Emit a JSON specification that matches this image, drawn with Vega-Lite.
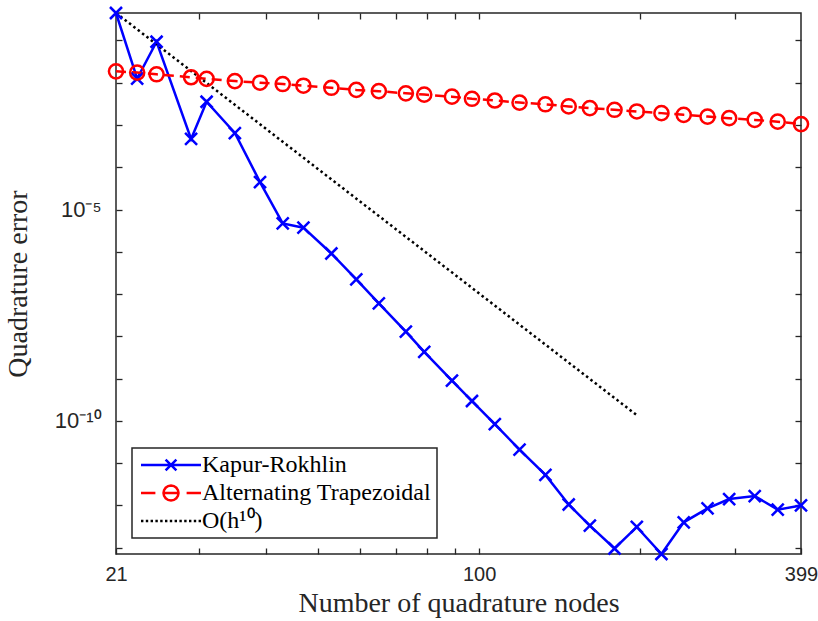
{
  "$schema": "https://vega.github.io/schema/vega-lite/v6.json",
  "width": 685,
  "height": 541,
  "autosize": {"type": "none"},
  "padding": {"left": 116, "top": 13, "right": 17, "bottom": 67},
  "background": "white",
  "config": {
    "view": {"stroke": "#262626", "strokeWidth": 1.5},
    "axis": {
      "domain": false,
      "grid": false,
      "tickColor": "#262626",
      "tickWidth": 1.3,
      "tickSize": -6,
      "labelFont": "Liberation Sans",
      "labelFontSize": 20,
      "labelColor": "#262626",
      "labelOverlap": false,
      "labelFlush": false,
      "titleFont": "Liberation Serif",
      "titleFontSize": 28,
      "titleFontWeight": "normal",
      "titleColor": "#262626"
    }
  },
  "data": {
    "values": [
      {"N": 21, "err": 0.4467, "series": "Kapur-Rokhlin"},
      {"N": 23, "err": 0.01259, "series": "Kapur-Rokhlin"},
      {"N": 25, "err": 0.0933, "series": "Kapur-Rokhlin"},
      {"N": 29, "err": 4.68e-4, "series": "Kapur-Rokhlin"},
      {"N": 31, "err": 3.55e-3, "series": "Kapur-Rokhlin"},
      {"N": 35, "err": 6.46e-4, "series": "Kapur-Rokhlin"},
      {"N": 39, "err": 4.47e-5, "series": "Kapur-Rokhlin"},
      {"N": 43, "err": 4.68e-6, "series": "Kapur-Rokhlin"},
      {"N": 47, "err": 3.72e-6, "series": "Kapur-Rokhlin"},
      {"N": 53, "err": 9.12e-7, "series": "Kapur-Rokhlin"},
      {"N": 59, "err": 2.24e-7, "series": "Kapur-Rokhlin"},
      {"N": 65, "err": 6.03e-8, "series": "Kapur-Rokhlin"},
      {"N": 73, "err": 1.29e-8, "series": "Kapur-Rokhlin"},
      {"N": 79, "err": 4.27e-9, "series": "Kapur-Rokhlin"},
      {"N": 89, "err": 8.91e-10, "series": "Kapur-Rokhlin"},
      {"N": 97, "err": 2.95e-10, "series": "Kapur-Rokhlin"},
      {"N": 107, "err": 8.32e-11, "series": "Kapur-Rokhlin"},
      {"N": 119, "err": 2.09e-11, "series": "Kapur-Rokhlin"},
      {"N": 133, "err": 5.25e-12, "series": "Kapur-Rokhlin"},
      {"N": 147, "err": 1.05e-12, "series": "Kapur-Rokhlin"},
      {"N": 161, "err": 3.31e-13, "series": "Kapur-Rokhlin"},
      {"N": 179, "err": 9.55e-14, "series": "Kapur-Rokhlin"},
      {"N": 197, "err": 3.09e-13, "series": "Kapur-Rokhlin"},
      {"N": 219, "err": 7.08e-14, "series": "Kapur-Rokhlin"},
      {"N": 241, "err": 3.98e-13, "series": "Kapur-Rokhlin"},
      {"N": 267, "err": 8.51e-13, "series": "Kapur-Rokhlin"},
      {"N": 293, "err": 1.41e-12, "series": "Kapur-Rokhlin"},
      {"N": 327, "err": 1.66e-12, "series": "Kapur-Rokhlin"},
      {"N": 361, "err": 7.94e-13, "series": "Kapur-Rokhlin"},
      {"N": 399, "err": 1.0e-12, "series": "Kapur-Rokhlin"},
      {"N": 21, "err": 0.01862, "series": "Alternating Trapezoidal"},
      {"N": 23, "err": 0.01738, "series": "Alternating Trapezoidal"},
      {"N": 25, "err": 0.01585, "series": "Alternating Trapezoidal"},
      {"N": 29, "err": 0.01349, "series": "Alternating Trapezoidal"},
      {"N": 31, "err": 0.0123, "series": "Alternating Trapezoidal"},
      {"N": 35, "err": 0.01096, "series": "Alternating Trapezoidal"},
      {"N": 39, "err": 0.01, "series": "Alternating Trapezoidal"},
      {"N": 43, "err": 0.00933, "series": "Alternating Trapezoidal"},
      {"N": 47, "err": 0.00851, "series": "Alternating Trapezoidal"},
      {"N": 53, "err": 0.00759, "series": "Alternating Trapezoidal"},
      {"N": 59, "err": 0.00676, "series": "Alternating Trapezoidal"},
      {"N": 65, "err": 0.00631, "series": "Alternating Trapezoidal"},
      {"N": 73, "err": 0.00562, "series": "Alternating Trapezoidal"},
      {"N": 79, "err": 0.00525, "series": "Alternating Trapezoidal"},
      {"N": 89, "err": 0.00468, "series": "Alternating Trapezoidal"},
      {"N": 97, "err": 0.00417, "series": "Alternating Trapezoidal"},
      {"N": 107, "err": 0.0038, "series": "Alternating Trapezoidal"},
      {"N": 119, "err": 0.00339, "series": "Alternating Trapezoidal"},
      {"N": 133, "err": 0.00309, "series": "Alternating Trapezoidal"},
      {"N": 147, "err": 0.00275, "series": "Alternating Trapezoidal"},
      {"N": 161, "err": 0.00251, "series": "Alternating Trapezoidal"},
      {"N": 179, "err": 0.00229, "series": "Alternating Trapezoidal"},
      {"N": 197, "err": 0.00209, "series": "Alternating Trapezoidal"},
      {"N": 219, "err": 0.00191, "series": "Alternating Trapezoidal"},
      {"N": 241, "err": 0.00174, "series": "Alternating Trapezoidal"},
      {"N": 267, "err": 0.00158, "series": "Alternating Trapezoidal"},
      {"N": 293, "err": 0.00145, "series": "Alternating Trapezoidal"},
      {"N": 327, "err": 0.00132, "series": "Alternating Trapezoidal"},
      {"N": 361, "err": 0.0012, "series": "Alternating Trapezoidal"},
      {"N": 399, "err": 0.00105, "series": "Alternating Trapezoidal"},
      {"N": 21, "err": 0.4467, "series": "O(h¹⁰)"},
      {"N": 197, "err": 1.36e-10, "series": "O(h¹⁰)"}
    ]
  },
  "layer": [
    {
      "transform": [{"filter": "datum.series == 'Kapur-Rokhlin'"}],
      "mark": {"type": "line", "strokeWidth": 2.5},
      "encoding": {
        "x": {
          "field": "N", "type": "quantitative",
          "scale": {"type": "log", "domain": [21, 399], "nice": false},
          "axis": {
            "orient": "bottom",
            "values": [21, 30, 40, 50, 60, 70, 80, 90, 100, 200, 300, 399],
            "labelExpr": "(datum.value == 21 || datum.value == 100 || datum.value == 399) ? '' + datum.value : ''",
            "labelPadding": 16,
            "title": "Number of quadrature nodes",
            "titlePadding": 5
          }
        },
        "y": {
          "field": "err", "type": "quantitative",
          "scale": {"type": "log", "domain": [7.08e-14, 0.4467], "nice": false},
          "axis": {
            "orient": "left",
            "values": [1e-13, 1e-12, 1e-11, 1e-10, 1e-9, 1e-8, 1e-7, 1e-6, 1e-5, 1e-4, 1e-3, 1e-2, 1e-1],
            "labelExpr": "abs(log(datum.value) / LN10 + 5) < 0.01 ? '10⁻⁵' : (abs(log(datum.value) / LN10 + 10) < 0.01 ? '10⁻¹⁰' : '')",
            "labelFontSize": 22,
            "labelPadding": 21,
            "title": "Quadrature error",
            "titlePadding": 22
          }
        },
        "color": {
          "field": "series", "type": "nominal",
          "scale": {"domain": ["Kapur-Rokhlin", "Alternating Trapezoidal", "O(h¹⁰)"], "range": ["#0000FF", "#FF0000", "#000000"]},
          "legend": {
            "orient": "bottom-left",
            "offset": 16,
            "title": null,
            "padding": 5,
            "strokeColor": "#262626",
            "fillColor": "white",
            "labelFont": "Liberation Serif",
            "labelFontSize": 24,
            "labelColor": "#000000",
            "labelLimit": 400,
            "symbolSize": 144,
            "symbolStrokeWidth": 2.5,
            "symbolOffset": 22,
            "labelOffset": 19,
            "rowPadding": 3,
            "encode": {
              "symbols": {
                "update": {
                  "shape": {"signal": "datum.value == 'Kapur-Rokhlin' ? 'M-5,0H5M-0.9,-0.9L0.9,0.9M-0.9,0.9L0.9,-0.9' : (datum.value == 'Alternating Trapezoidal' ? 'M-5,0H-2.6M-1.25,0H1.25M2.6,0H5M1.25,0L1.1548,0.4784L0.8839,0.8839L0.4784,1.1548L0,1.25L-0.4784,1.1548L-0.8839,0.8839L-1.1548,0.4784L-1.25,0L-1.1548,-0.4784L-0.8839,-0.8839L-0.4784,-1.1548L0,-1.25L0.4784,-1.1548L0.8839,-0.8839L1.1548,-0.4784Z' : 'M-5,0h0.4M-4.2,0h0.4M-3.4,0h0.4M-2.6,0h0.4M-1.8,0h0.4M-1,0h0.4M-0.2,0h0.4M0.6,0h0.4M1.4,0h0.4M2.2,0h0.4M3,0h0.4M3.8,0h0.4M4.6,0h0.4')"},
                  "fill": {"value": "transparent"}
                }
              },
              "legend": {"update": {"strokeWidth": {"value": 1.5}}}
            }
          }
        }
      }
    },
    {
      "transform": [{"filter": "datum.series == 'Alternating Trapezoidal'"}],
      "mark": {"type": "line", "strokeWidth": 2.5, "stroke": "#FF0000", "strokeDash": [10, 6]},
      "encoding": {
        "x": {"field": "N", "type": "quantitative", "axis": null},
        "y": {"field": "err", "type": "quantitative", "axis": null}
      }
    },
    {
      "transform": [{"filter": "datum.series == 'O(h¹⁰)'"}],
      "mark": {"type": "line", "strokeWidth": 2.5, "stroke": "#000000", "strokeDash": [2.5, 3]},
      "encoding": {
        "x": {"field": "N", "type": "quantitative", "axis": null},
        "y": {"field": "err", "type": "quantitative", "axis": null}
      }
    },
    {
      "transform": [{"filter": "datum.series == 'Kapur-Rokhlin'"}],
      "mark": {"type": "point", "shape": "M-1,-1L1,1M-1,1L1,-1", "size": 144, "filled": false, "stroke": "#0000FF", "strokeWidth": 2.5, "opacity": 1},
      "encoding": {
        "x": {
          "field": "N", "type": "quantitative",
          "axis": {"orient": "top", "values": [30, 40, 50, 60, 70, 80, 90, 100, 200, 300], "labels": false, "title": null}
        },
        "y": {
          "field": "err", "type": "quantitative",
          "axis": {"orient": "right", "values": [1e-13, 1e-12, 1e-11, 1e-10, 1e-9, 1e-8, 1e-7, 1e-6, 1e-5, 1e-4, 1e-3, 1e-2, 1e-1], "labels": false, "title": null}
        }
      }
    },
    {
      "transform": [{"filter": "datum.series == 'Alternating Trapezoidal'"}],
      "mark": {"type": "point", "shape": "circle", "size": 200, "filled": false, "stroke": "#FF0000", "strokeWidth": 2.5, "opacity": 1},
      "encoding": {
        "x": {"field": "N", "type": "quantitative", "axis": null},
        "y": {"field": "err", "type": "quantitative", "axis": null}
      }
    }
  ],
  "resolve": {"axis": {"x": "independent", "y": "independent"}}
}
